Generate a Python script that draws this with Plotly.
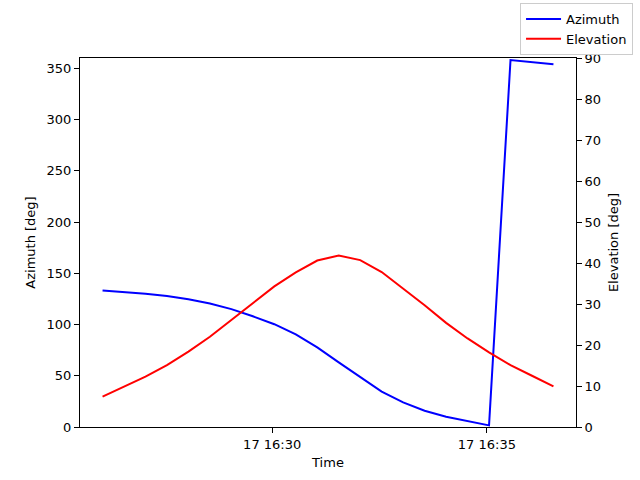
import pandas as pd
import plotly.graph_objects as go

times = [
    "2024-01-17 16:26:03", "2024-01-17 16:26:33", "2024-01-17 16:27:03",
    "2024-01-17 16:27:33", "2024-01-17 16:28:03", "2024-01-17 16:28:33",
    "2024-01-17 16:29:03", "2024-01-17 16:29:33", "2024-01-17 16:30:03",
    "2024-01-17 16:30:33", "2024-01-17 16:31:03", "2024-01-17 16:31:33",
    "2024-01-17 16:32:03", "2024-01-17 16:32:33", "2024-01-17 16:33:03",
    "2024-01-17 16:33:33", "2024-01-17 16:34:03", "2024-01-17 16:34:33",
    "2024-01-17 16:35:03", "2024-01-17 16:35:33", "2024-01-17 16:36:03",
    "2024-01-17 16:36:33",
]
azimuth = [133.1, 131.7, 130.1, 127.9, 124.6, 120.4, 115.0, 108.0, 100.3,
           90.3, 77.6, 63.0, 48.4, 34.6, 24.0, 15.9, 10.0, 5.6, 1.6,
           358.0, 355.9, 353.8]
elevation = [7.4, 9.8, 12.3, 15.1, 18.4, 22.0, 26.1, 30.4, 34.3,
             37.7, 40.6, 41.8, 40.7, 37.8, 33.8, 29.7, 25.4, 21.6, 18.2,
             15.1, 12.5, 9.9]
x_ticks = ["2024-01-17 16:30:00", "2024-01-17 16:35:00"]

t = pd.to_datetime(times)
pad = (t[-1] - t[0]) * 0.05
x_range = [t[0] - pad, t[-1] + pad]

font = dict(family="DejaVu Sans", size=13, color="black")

fig = go.Figure()
fig.add_trace(go.Scatter(x=t, y=azimuth, name="Azimuth", mode="lines",
                         line=dict(color="blue", width=2)))
fig.add_trace(go.Scatter(x=t, y=elevation, name="Elevation", mode="lines",
                         line=dict(color="red", width=2), yaxis="y2"))

axis_style = dict(showline=True, linecolor="black", linewidth=1,
                  ticks="outside", ticklen=5, tickcolor="black",
                  showgrid=False, zeroline=False, tickfont=font)

fig.update_layout(
    width=640, height=480,
    margin=dict(l=80, r=64, t=58, b=53, autoexpand=False),
    paper_bgcolor="white", plot_bgcolor="white",
    font=font,
    xaxis=dict(axis_style, range=x_range, mirror=True,
               tickvals=pd.to_datetime(x_ticks), tickformat="%d %H:%M",
               title=dict(text="Time", font=font, standoff=7)),
    yaxis=dict(axis_style, range=[0, 360], tickvals=list(range(0, 351, 50)),
               title=dict(text="Azimuth [deg]", font=font, standoff=8)),
    yaxis2=dict(axis_style, range=[0, 90], tickvals=list(range(0, 91, 10)),
                overlaying="y", side="right",
                title=dict(text="Elevation [deg]", font=font, standoff=8)),
    legend=dict(x=1.115, y=1.149, xanchor="right", yanchor="top",
                bgcolor="white", bordercolor="#cccccc", borderwidth=1,
                font=font, tracegroupgap=0, itemwidth=35),
    showlegend=True,
)

# page body has a default 8px margin; drop it so the figure sits at 0,0
fig.write_html("out.html", config={"displayModeBar": False},
               post_script="document.body.style.margin = '0';")
